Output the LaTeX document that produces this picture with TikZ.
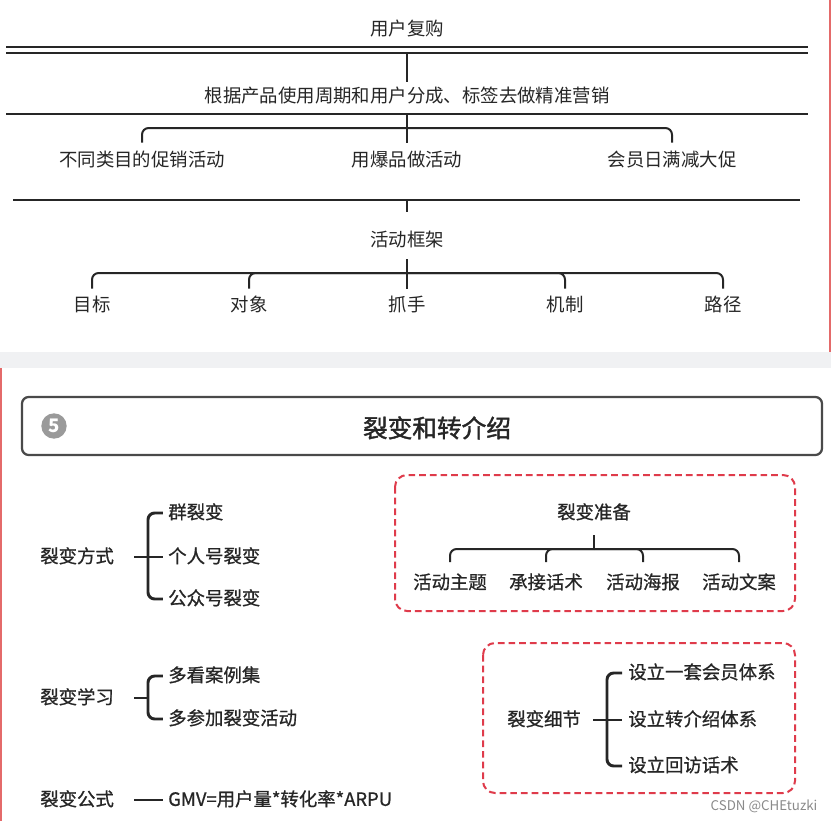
\documentclass[tikz,border=0pt]{standalone}
\usepackage{fontspec}
\setmainfont{Noto Sans CJK SC}
\newfontfamily\cjkmid[FakeBold=0.8]{Noto Sans CJK SC}
\newfontfamily\cjkhead[FakeBold=1.6]{Noto Sans CJK SC}
\usetikzlibrary{positioning}
\definecolor{inkgray}{HTML}{262626}
\definecolor{framered}{HTML}{DF3B4B}
\definecolor{edgered}{HTML}{E46A6A}
\definecolor{bandgray}{HTML}{F0F1F3}
\definecolor{badgegray}{HTML}{9A9A9A}
\definecolor{boxgray}{HTML}{4A4A4A}
\definecolor{markgray}{HTML}{8A8A8A}
\tikzset{
  lbl/.style={inner sep=0pt, text=inkgray, text height=11.3pt, text depth=2.5pt,
    font=\fontsize{13.8pt}{16pt}\selectfont},
  leaf/.style={lbl, anchor=west, font=\cjkmid\fontsize{13.8pt}{16pt}\selectfont},
  midlbl/.style={lbl, font=\cjkmid\fontsize{13.8pt}{16pt}\selectfont},
  rule/.style={draw=inkgray, line width=1.5pt},
  tbrk/.style={rule, rounded corners=5pt},
  bbrk/.style={draw=inkgray, line width=2.2pt, rounded corners=5pt},
  titlebox/.style={draw=boxgray, line width=1.7pt, rounded corners=5pt,
    minimum width=600pt, minimum height=43.5pt, inner sep=0pt},
  badge/.style={circle, fill=badgegray, text=white, minimum size=19pt,
    inner sep=0pt, font=\bfseries\fontsize{14pt}{15pt}\selectfont},
  redframe/.style={draw=framered, line width=1.5pt, rounded corners=9pt,
    dash pattern=on 5pt off 3pt},
  edgeline/.style={draw=edgered, line width=1.5pt},
}
\begin{document}
\begin{tikzpicture}[x=0.75pt, y=-0.75pt]
\useasboundingbox (0,0) rectangle (831,821);
% screenshot backdrop: two panels split by a grey band
\fill[white] (0,0) rectangle (831,821);
\fill[bandgray] (0,352) rectangle (831,368);
\draw[edgeline] (829.5,0) -- (829.5,352);
\draw[edgeline] (1,368) -- (1,821);
% upper panel: repeat purchase
\node[lbl] (rep) at (407,30) {用户复购};
\coordinate (dla) at (6,47); \coordinate (dlb) at (808,47);
\coordinate (dlc) at (6,53); \coordinate (dld) at (808,53);
\coordinate (dlm) at (407,53);
\draw[rule] (dla) -- (dlb);
\draw[rule] (dlc) -- (dld);
\node[lbl] (seg) at (407,97) {根据产品使用周期和用户分成、标签去做精准营销};
\draw[rule, shorten >=4pt] (dlm) -- (seg.north);
\coordinate (lna) at (6,114); \coordinate (lnb) at (808,114);
\coordinate (lnm) at (407,114);
\draw[rule] (lna) -- (lnb);
\node[lbl] (ca) at (142,161) {不同类目的促销活动};
\node[lbl] (cb) at (407,161) {用爆品做活动};
\node[lbl] (cc) at (672,161) {会员日满减大促};
\coordinate (bara) at (407,128);
\draw[tbrk, shorten <=6.6pt, shorten >=6.6pt] (ca.north) |- (bara) -| (cc.north);
\draw[rule, shorten >=6.6pt] (lnm) -- (cb.north);
\coordinate (lnc) at (13,200); \coordinate (lnd) at (800,200);
\coordinate (lnt) at (407,200); \coordinate (lnu) at (407,212);
\draw[rule] (lnc) -- (lnd);
\draw[rule] (lnt) -- (lnu);
% activity frame
\node[lbl] (frm) at (407,241) {活动框架};
\node[lbl] (fa) at (92,306) {目标};
\node[lbl] (fb) at (249,306) {对象};
\node[lbl] (fc) at (407,306) {抓手};
\node[lbl] (fd) at (565,306) {机制};
\node[lbl] (fe) at (723,306) {路径};
\coordinate (barb) at (407,273);
\draw[tbrk, shorten <=6pt, shorten >=6pt] (fa.north) |- (barb) -| (fe.north);
\draw[tbrk, shorten <=6pt] (fb.north) |- (barb);
\draw[tbrk, shorten <=6pt] (fd.north) |- (barb);
\draw[rule, shorten <=6.4pt, shorten >=6pt] (frm.south) -- (fc.north);
% lower panel: section 5 header
\node[titlebox] (tbox) at (422,426) {};
\node[badge] (num) at (54,426) {5};
\node[lbl, text height=17pt, text depth=3pt, font=\cjkhead\fontsize{18.5pt}{20pt}\selectfont] (ttl) at (437,428) {裂变和转介绍};
% fission modes
\node[leaf] (fs) at (40,557) {裂变方式};
\node[leaf] (ma) at (168,513) {群裂变};
\node[leaf] (mb) at (168,557) {个人号裂变};
\node[leaf] (mc) at (168,599) {公众号裂变};
\coordinate (jna) at (148,557);
\draw[bbrk, shorten <=3.8pt, shorten >=3.8pt] (ma.west) -| (jna) |- (mc.west);
\draw[bbrk, shorten <=15pt, shorten >=3.8pt] (fs.east) -- (mb.west);
% fission learning
\node[leaf] (fl) at (40,698) {裂变学习};
\node[leaf] (na) at (168,676) {多看案例集};
\node[leaf] (nb) at (168,719) {多参加裂变活动};
\coordinate (jnb) at (148,698);
\draw[bbrk, shorten <=3.8pt, shorten >=3.8pt] (na.west) -| (jnb) |- (nb.west);
\draw[bbrk, shorten <=15pt] (fl.east) -- (jnb);
% fission formula
\node[leaf] (fg) at (40,800) {裂变公式};
\node[leaf] (gmv) at (168,800) {GMV=用户量*转化率*ARPU};
\draw[bbrk, shorten <=15pt, shorten >=3.8pt] (fg.east) -- (gmv.west);
% preparation, boxed
\draw[redframe] (395,475) rectangle (795,611);
\node[midlbl] (prep) at (594,513) {裂变准备};
\node[midlbl] (pa) at (450,583) {活动主题};
\node[midlbl] (pb) at (546,583) {承接话术};
\node[midlbl] (pc) at (643,583) {活动海报};
\node[midlbl] (pd) at (739,583) {活动文案};
\coordinate (barc) at (594,549);
\draw[tbrk, shorten <=8.5pt, shorten >=8.5pt] (pa.north) |- (barc) -| (pd.north);
\draw[tbrk, shorten <=8.5pt] (pb.north) |- (barc);
\draw[tbrk, shorten <=8.5pt] (pc.north) |- (barc);
\draw[rule, shorten <=9.5pt] (prep.south) -- (barc);
% details, boxed
\draw[redframe] (483,643) rectangle (795,793);
\node[leaf] (det) at (507,720) {裂变细节};
\node[leaf] (da) at (628,673) {设立一套会员体系};
\node[leaf] (db) at (628,720) {设立转介绍体系};
\node[leaf] (dc) at (628,766) {设立回访话术};
\coordinate (jnc) at (607,720);
\draw[bbrk, shorten <=4.5pt, shorten >=4.5pt] (da.west) -| (jnc) |- (dc.west);
\draw[bbrk, shorten <=9pt, shorten >=4.5pt] (det.east) -- (db.west);
% source mark
\node[text=markgray, inner sep=0pt, font=\fontsize{10pt}{12pt}\selectfont] (src) at (764,806) {CSDN @CHEtuzki};
\end{tikzpicture}
\end{document}
